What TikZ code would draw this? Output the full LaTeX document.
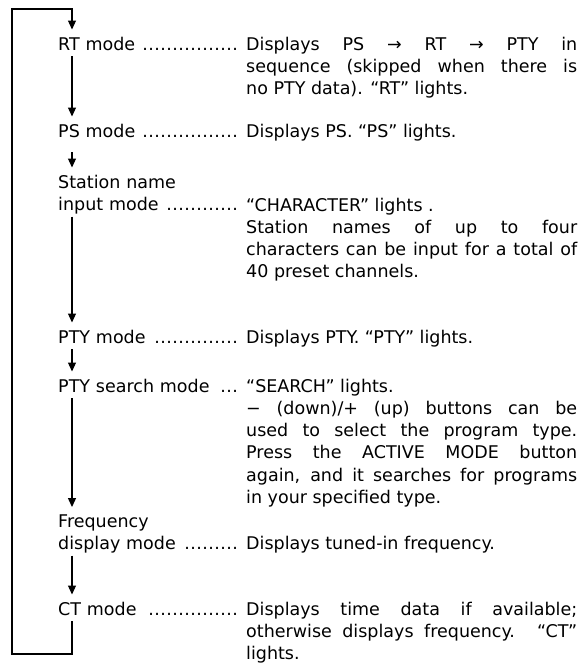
\documentclass[tikz,border=0pt]{standalone}
\usepackage{fontspec}
\setmainfont{DejaVu Sans}
\usetikzlibrary{arrows.meta}
\newcommand\dotlead{\leaders\hbox to 6pt{\hss.\hss}\hfill}
\newcommand\lead[1]{\raisebox{0pt}[\height][0pt]{\makebox[180pt][l]{#1\ \dotlead}}}
\begin{document}
\begin{tikzpicture}[x=1pt, y=-1pt,
    every node/.style={font=\fontsize{17.5}{22.3}\selectfont},
    mode/.style={anchor=base west, inner sep=0pt, text width=184pt, align=left},
    info/.style={anchor=base west, inner sep=0pt, text width=331pt, align=justify},
    flow/.style={line width=1.2pt, -{Triangle[length=9pt,width=8pt]}, shorten <=6pt, shorten >=7pt}]
      \useasboundingbox (0, 0) rectangle (584, 664);
      \node[mode](rt) at (58, 50) {\lead{RT mode}};
      \node[mode](ps) at (58, 137) {\lead{PS mode}};
      \node[mode](st) at (58, 188) {Station name\\\lead{input mode}};
      \node[mode](pty) at (58, 343) {\lead{PTY mode}};
      \node[mode](srch) at (58, 392) {\lead{PTY search mode}};
      \node[mode](freq) at (58, 527) {Frequency\\\lead{display mode}};
      \node[mode](ct) at (58, 615) {\lead{CT mode}};
      \node[info](rtinfo) at (246, 50) {Displays PS → RT → PTY in\linebreak sequence (skipped when there is\linebreak no PTY data). “RT” lights.};
      \node[info](psinfo) at (246, 137) {Displays PS. “PS” lights.};
      \node[info](stinfo) at (246, 211) {“CHARACTER” lights .\newline Station names of up to four\linebreak characters can be input for a total of\linebreak 40 preset channels.};
      \node[info](ptyinfo) at (246, 343) {Displays PTY. “PTY” lights.};
      \node[info](srchinfo) at (246, 392) {“SEARCH” lights.\newline − (down)/+ (up) buttons can be\linebreak used to select the program type.\linebreak Press the ACTIVE MODE button\linebreak again, and it searches for programs\linebreak in your specified type.};
      \node[info](freqinfo) at (246, 549) {Displays tuned-in frequency.};
      \node[info](ctinfo) at (246, 615) {Displays time data if available;\linebreak otherwise displays frequency. “CT”\linebreak lights.};
      \coordinate (loopbl) at (12, 654);
      \coordinate (looptl) at (12, 9);
      \draw[flow]([xshift=14pt]rt.south west) -- ([xshift=14pt]ps.north west);
      \draw[flow, shorten <=15pt]([xshift=14pt]ps.south west) -- ([xshift=14pt]st.north west);
      \draw[flow]([xshift=14pt]st.south west) -- ([xshift=14pt]pty.north west);
      \draw[flow]([xshift=14pt]pty.south west) -- ([xshift=14pt]srch.north west);
      \draw[flow]([xshift=14pt]srch.south west) -- ([xshift=14pt]freq.north west);
      \draw[flow]([xshift=14pt]freq.south west) -- ([xshift=14pt]ct.north west);
      \draw[flow]([xshift=14pt]ct.south west) |- (loopbl) -- (looptl) -| ([xshift=14pt]rt.north west);
    \end{tikzpicture}
\end{document}
